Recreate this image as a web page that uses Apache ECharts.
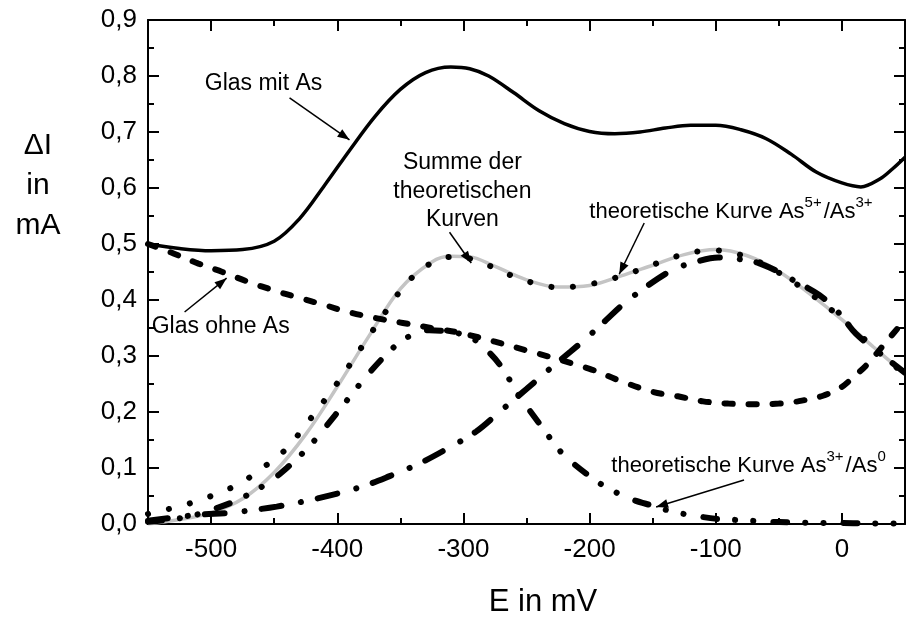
<!DOCTYPE html>
<html><head><meta charset="utf-8">
<script src="https://cdn.jsdelivr.net/npm/echarts@6/dist/echarts.min.js"></script>
<style>html,body{margin:0;padding:0;background:#fff}#c{width:906px;height:621px}</style>
</head><body><div id="c"></div>
<script>
const FONT = '"Liberation Sans", Arial, sans-serif';

// ---- tick values ----
const xMajorTicks = [-500, -400, -300, -200, -100, 0];
const xMinorTicks = [-550, -450, -350, -250, -150, -50, 50];

// ---- Glas mit As (solid) ----
const mitE = [-550,-525,-500,-475,-450,-430,-410,-390,-370,-350,-330,-310,-295,-280,-260,-240,-220,-200,-180,-160,-140,-120,-100,-80,-60,-40,-20,0,15,30,40,50];
const mitI = [0.500,0.492,0.488,0.490,0.505,0.545,0.605,0.668,0.728,0.776,0.806,0.816,0.813,0.800,0.770,0.738,0.715,0.701,0.697,0.700,0.707,0.712,0.712,0.704,0.688,0.660,0.628,0.609,0.602,0.616,0.634,0.655];

// ---- Glas ohne As (dashed) ----
const ohneE = [-550,-533,-510,-491,-470,-450,-432,-410,-392,-370,-348,-320,-300,-250,-200,-175,-150,-130,-110,-90,-70,-50,-35,-15,0,5,20,35,50];
const ohneI = [0.500,0.486,0.465,0.450,0.432,0.417,0.405,0.391,0.379,0.368,0.359,0.348,0.340,0.310,0.277,0.255,0.236,0.228,0.219,0.215,0.214,0.215,0.219,0.229,0.245,0.254,0.285,0.325,0.365];

// ---- Differenz (dotted) ----
const diffE = [-550,-545,-527,-510,-493,-476,-458,-440,-425,-406,-398,-380,-365,-345,-327,-310,-293,-276,-258,-240,-223,-206,-188,-171,-154,-137,-120,-110,-101,-92,-75,-58,-41,-22,-5,13,30,50];
const diffI = [0.018,0.022,0.030,0.042,0.056,0.074,0.102,0.135,0.177,0.233,0.258,0.318,0.368,0.430,0.464,0.477,0.473,0.458,0.440,0.428,0.422,0.426,0.434,0.446,0.459,0.474,0.484,0.488,0.489,0.486,0.477,0.459,0.436,0.406,0.376,0.340,0.305,0.267];

// ---- Summe der theoretischen Kurven (grey) ----
const sumE = [-550,-525,-500,-475,-450,-425,-400,-375,-350,-325,-310,-295,-275,-250,-225,-200,-175,-150,-125,-100,-75,-50,-25,0,25,50];
const sumI = [0.000,0.008,0.020,0.045,0.092,0.160,0.245,0.335,0.420,0.468,0.478,0.477,0.460,0.436,0.423,0.426,0.443,0.462,0.481,0.490,0.479,0.451,0.410,0.365,0.316,0.268];

// ---- theoretische Kurve As5+/As3+ (dash-dot) ----
const as53E = [-550,-512,-485,-470,-448,-425,-404,-380,-359,-335,-314,-290,-270,-250,-230,-215,-200,-187,-174,-155,-134,-116,-98,-82,-66,-50,-39,-18,-2,11,30,50];
const as53I = [0.006,0.016,0.020,0.024,0.031,0.041,0.052,0.067,0.085,0.108,0.133,0.165,0.203,0.241,0.280,0.308,0.337,0.364,0.391,0.424,0.454,0.468,0.476,0.473,0.466,0.450,0.436,0.409,0.376,0.340,0.305,0.270];

// ---- theoretische Kurve As3+/As0 (dash-dot-dot) ----
const as30E = [-550,-520,-500,-477,-454,-440,-425,-414,-389,-375,-356,-344,-327,-310,-295,-285,-271,-256,-240,-224,-216,-203,-190,-169,-149,-134,-115,-95,-80,-59,-40,-20,0,25,50];
const as30I = [0.004,0.012,0.025,0.045,0.075,0.100,0.132,0.160,0.230,0.269,0.314,0.334,0.346,0.343,0.334,0.318,0.284,0.230,0.180,0.132,0.114,0.0905,0.070,0.046,0.032,0.022,0.014,0.0083,0.007,0.004,0.003,0.002,0.002,0.001,0.001];

function pairs(xs, ys) { return xs.map((x, i) => [x, ys[i]]); }

const chart = echarts.init(document.getElementById('c'), null, {renderer: 'canvas'});

const axLine = {show: true, onZero: false, lineStyle: {color: '#000', width: 2}};
const noLine = {show: false, onZero: false};
const tickStyle = {color: '#000', width: 2};
function xAx(pos, major, withLabel) {
  return {
    type: 'value', min: -550, max: 50, interval: 50, position: pos,
    axisLine: major ? axLine : noLine,
    axisTick: {show: true, inside: true, length: major ? 11 : 6, lineStyle: tickStyle,
               customValues: major ? xMajorTicks : xMinorTicks},
    axisLabel: withLabel ? {show: true, customValues: xMajorTicks, fontSize: 26, color: '#000',
               fontFamily: FONT, margin: 13, formatter: v => String(v)} : {show: false},
    splitLine: {show: false}
  };
}
function yAx(pos, withLabel) {
  return {
    type: 'value', min: 0, max: 0.9, interval: 0.1, position: pos,
    axisLine: axLine,
    axisTick: {show: true, inside: true, length: 11, lineStyle: tickStyle},
    minorTick: {show: true, splitNumber: 2, length: 6, lineStyle: tickStyle},
    axisLabel: withLabel ? {show: true, fontSize: 26, color: '#000', fontFamily: FONT, margin: 11,
               formatter: v => v.toFixed(1).replace('.', ',')} : {show: false},
    splitLine: {show: false}, minorSplitLine: {show: false}
  };
}

function lineSeries(name, data, style, z) {
  return {name, type: 'line', data, xAxisIndex: 0, yAxisIndex: 0, showSymbol: false, smooth: 0.35,
          lineStyle: style, z, silent: true};
}

chart.setOption({
  animation: false,
  backgroundColor: '#fff',
  grid: {left: 148, right: 1, top: 20, bottom: 97, containLabel: false},
  xAxis: [xAx('bottom', true, true), xAx('bottom', false, false), xAx('top', true, false), xAx('top', false, false)],
  yAxis: [yAx('left', true), yAx('right', false)],
  series: [
    lineSeries('Summe', pairs(sumE, sumI), {color: '#c4c4c4', width: 3.5}, 2),
    lineSeries('Differenz', pairs(diffE, diffI), {color: '#000', width: 6, type: [0.1, 21.5], cap: 'round'}, 3),
    lineSeries('As5+/As3+', pairs(as53E, as53I), {color: '#000', width: 6, type: [20, 20, 0.1, 17], cap: 'round'}, 4),
    lineSeries('As3+/As0', pairs(as30E, as30I), {color: '#000', width: 6, type: [14, 18, 0.1, 18, 0.1, 20], cap: 'round'}, 4),
    lineSeries('Glas ohne As', pairs(ohneE, ohneI), {color: '#000', width: 6, type: [8, 16], cap: 'round'}, 5),
    lineSeries('Glas mit As', pairs(mitE, mitI), {color: '#000', width: 3.5}, 6)
  ]
});

// ---- annotations (anchored in data coordinates) ----
const P = (e, i) => chart.convertToPixel({xAxisIndex: 0, yAxisIndex: 0}, [e, i]);
const measureCtx = document.createElement('canvas').getContext('2d');
function textW(t, size) { measureCtx.font = size + 'px ' + FONT; return measureCtx.measureText(t).width; }

function arrow(a, b, head) {
  const p0 = P(a[0], a[1]), p1 = P(b[0], b[1]);
  const els = [{type: 'line', shape: {x1: p0[0], y1: p0[1], x2: p1[0], y2: p1[1]},
                style: {stroke: '#000', lineWidth: 1.5}, z: 20}];
  if (head) {
    const dx = p1[0] - p0[0], dy = p1[1] - p0[1], L = Math.hypot(dx, dy), ux = dx / L, uy = dy / L;
    const hl = 12, hw = 4.5, bx = p1[0] - ux * hl, by = p1[1] - uy * hl;
    els.push({type: 'polygon', shape: {points: [[p1[0], p1[1]], [bx - uy * hw, by + ux * hw], [bx + uy * hw, by - ux * hw]]},
              style: {fill: '#000'}, z: 20});
  }
  return els;
}
function label(t, e, i, size, align) {
  const p = P(e, i);
  return {type: 'text', x: p[0], y: p[1], z: 21,
          style: {text: t, fontSize: size, fontFamily: FONT, fill: '#000', textAlign: align || 'center', textVerticalAlign: 'middle'}};
}
// segments: [text, isSup]
function supLabel(segs, e, i, size, supSize) {
  const p = P(e, i);
  let x = p[0];
  const out = [];
  segs.forEach(([t, sup]) => {
    const fs = sup ? supSize : size;
    out.push({type: 'text', x: x, y: sup ? p[1] - 9 : p[1], z: 21,
              style: {text: t, fontSize: fs, fontFamily: FONT, fill: '#000', textAlign: 'left', textVerticalAlign: 'middle'}});
    x += textW(t, fs) + (sup ? 2 : 0);
  });
  return out;
}

const els = [];
els.push(label('Glas mit As', -458.4, 0.786, 23));
els.push(...arrow([-437.8, 0.761], [-390.3, 0.686], true));
els.push(label('Glas ohne As', -492.4, 0.353, 23));
els.push(...arrow([-521, 0.3786], [-487.7, 0.439], true));
els.push(label('Summe der', -300.8, 0.645, 23));
els.push(label('theoretischen', -300.8, 0.593, 23));
els.push(label('Kurven', -300.8, 0.543, 23));
els.push(...arrow([-311, 0.521], [-293.8, 0.466], true));
els.push(...supLabel([['theoretische Kurve As', false], ['5+', true], ['/As', false], ['3+', true]], -200.2, 0.557, 22, 15));
els.push(...arrow([-156.7, 0.5375], [-176.5, 0.446], true));
els.push(...supLabel([['theoretische Kurve As', false], ['3+', true], ['/As', false], ['0', true]], -182.8, 0.103, 22, 15));
els.push(...arrow([-77.6, 0.0786], [-147.3, 0.0304], true));
// axis titles
els.push({type: 'text', x: 38, y: 146, z: 21, style: {text: 'ΔI', fontSize: 30, fontFamily: FONT, fill: '#000', textAlign: 'center', textVerticalAlign: 'middle'}});
els.push({type: 'text', x: 38, y: 186, z: 21, style: {text: 'in', fontSize: 30, fontFamily: FONT, fill: '#000', textAlign: 'center', textVerticalAlign: 'middle'}});
els.push({type: 'text', x: 38, y: 226, z: 21, style: {text: 'mA', fontSize: 30, fontFamily: FONT, fill: '#000', textAlign: 'center', textVerticalAlign: 'middle'}});
els.push({type: 'text', x: 543, y: 602, z: 21, style: {text: 'E in mV', fontSize: 31, fontFamily: FONT, fill: '#000', textAlign: 'center', textVerticalAlign: 'middle'}});

chart.setOption({graphic: {elements: els}});
</script>
</body></html>
